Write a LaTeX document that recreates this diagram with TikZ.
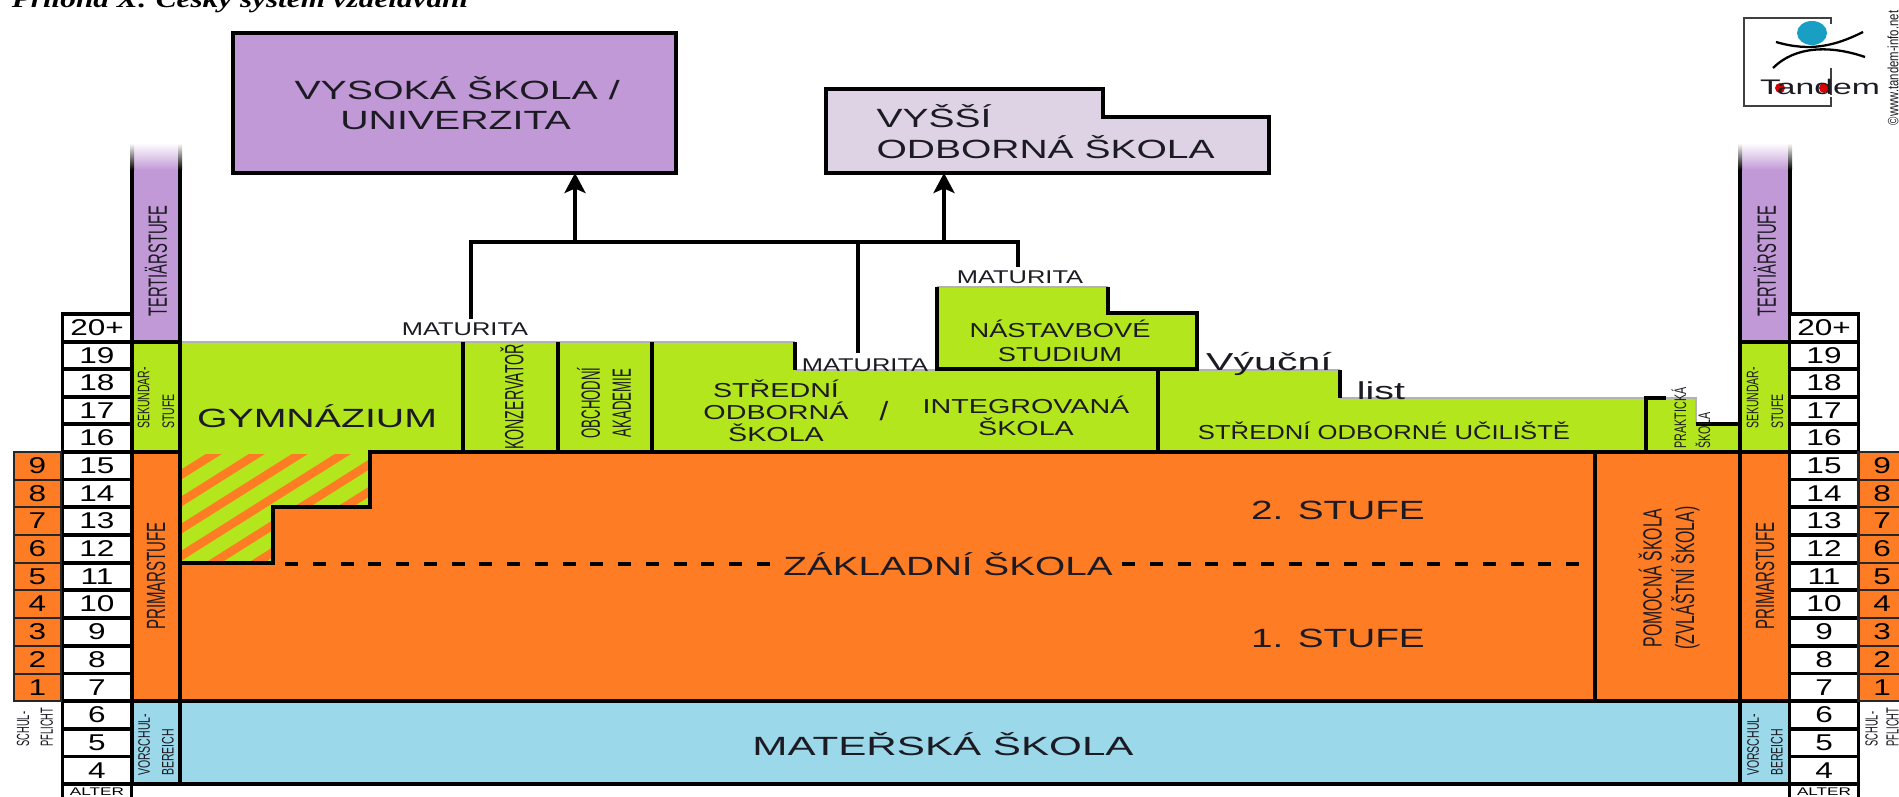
\documentclass[tikz,border=0pt]{standalone}
\usepackage{graphicx}
\usepackage{fontspec}
\setmainfont{Liberation Sans}
\newfontfamily\titlefont{Liberation Serif}
\usetikzlibrary{arrows.meta}

\definecolor{skOrange}{HTML}{FE7C23}
\definecolor{skGreen}{HTML}{B4E61D}
\definecolor{skPurple}{HTML}{C199D6}
\definecolor{skLavender}{HTML}{DDD3E5}
\definecolor{skBlue}{HTML}{9AD8EA}
\definecolor{skInk}{HTML}{1C1A22}
\definecolor{skDot}{HTML}{1A9FC4}

\newcommand{\wdnum}[1]{\scalebox{1.38}[1]{#1}}

\tikzset{
    box/.style 2 args={minimum width=#1*0.02cm,minimum height=#2*0.02cm,inner sep=0pt,outer sep=0pt},
    framed/.style={draw=black,line width=2pt},
    agecell/.style={box={69}{27.7},framed,fill=white,font=\fontsize{13pt}{14pt}\selectfont},
    classcell/.style={box={47}{27.7},draw=black!85,line width=1.2pt,fill=skOrange,font=\fontsize{13pt}{14pt}\selectfont},
    lab/.style n args={3}{font=\fontsize{#1}{#2}\selectfont,xscale=#3,transform shape,inner sep=0pt,text=skInk},
    vlab/.style n args={3}{rotate=90,lab={#1}{#2}{#3}},
    conn/.style={line width=2pt,black},
    tip/.style={-{Stealth[length=0.4cm,width=0.42cm,inset=0.09cm]}},
    topedge/.style={line width=1.2pt,gray!60},
    edge/.style={line width=2pt,black}
}

\begin{document}
\begin{tikzpicture}[line cap=butt,line join=miter,x=0.02cm,y=-0.02cm]

    \useasboundingbox (0,0) rectangle (1899,797);
    \clip (0,0) rectangle (1899,797);

    % heading, cut by the page edge
    \draw (240,-1) node[font=\titlefont\bfseries\itshape\fontsize{14pt}{16pt}\selectfont,xscale=1.27,transform shape,inner sep=0pt] (heading) {Příloha X: Český systém vzdělávání};

    % logo
    \draw[black!75,line width=1pt] (1831,24) -- (1831,18) -- (1744,18) -- (1744,106) -- (1831,106) -- (1831,97);
    \draw[black!75,line width=1pt] (1831,68) -- (1831,95);
    \fill[skDot] (1812,33) ellipse (15 and 12);
    \draw[black,line width=1.3pt] (1776,42) .. controls (1810,52) and (1835,46) .. (1863,32);
    \draw[black,line width=1.3pt] (1773,68) .. controls (1795,46) and (1830,45) .. (1865,57);
    \fill[red!85!black] (1780,88) circle (5);
    \fill[red!85!black] (1824,88) circle (5);
    \draw (1820,87) node[lab={12pt}{14pt}{1.6}] (tandem) {Tandem};
    \draw (1893,68) node[vlab={8.5pt}{10pt}{0.76}] (webref) {©www.tandem-info.net};

    % top boxes
    \draw (454.5,103) node[box={443}{140},framed,fill=skPurple] (vs) {};
    \draw[edge,fill=skLavender] (826,89) -- (1103,89) -- (1103,117) -- (1269,117) -- (1269,173) -- (826,173) -- cycle;
    \coordinate (vos) at (944,173);
    \draw (294,103) node[anchor=west,align=left,lab={15pt}{17pt}{1.49}] (vsText) {VYSOKÁ ŠKOLA /\\\hspace*{17.5pt}UNIVERZITA};
    \draw (876,132) node[anchor=west,align=left,lab={15pt}{17.6pt}{1.48}] (vosText) {VYŠŠÍ\\ODBORNÁ ŠKOLA};

    % secondary schools
    \fill[skGreen] (180,342) -- (795,342) -- (795,370) -- (937,370) -- (937,287) -- (1108,287) -- (1108,313) -- (1197,313) -- (1197,370) -- (1340,370) -- (1340,398) -- (1696,398) -- (1696,424) -- (1740,424) -- (1740,452) -- (180,452) -- cycle;
    \draw[topedge] (180,342) -- (795,342);
    \draw[topedge] (795,370) -- (937,370);
    \draw[topedge] (937,287) -- (1108,287);
    \draw[topedge] (1197,370) -- (1340,370);
    \draw[topedge] (1340,398) -- (1646,398);
    \draw[topedge] (1666,398) -- (1696,398) -- (1696,424);
    \draw[edge] (463,342) -- (463,452);
    \draw[edge] (558,342) -- (558,452);
    \draw[edge] (652,342) -- (652,452);
    \draw[edge] (795,342) -- (795,370);
    \draw[edge] (937,287) -- (937,369) -- (1197,369) -- (1197,313) -- (1108,313) -- (1108,287);
    \draw[edge] (1158,369) -- (1158,452);
    \draw[edge] (1340,370) -- (1340,398);
    \draw[edge] (1666,398) -- (1646,398) -- (1646,452);
    \draw[edge] (1696,424) -- (1740,424);

    % basic school and nursery
    \draw (960,576.5) node[box={1560}{249},fill=skOrange] (zs) {};
    \draw (960,742.5) node[box={1560}{83},framed,fill=skBlue] (ms) {};

    % gymnazium years inside the basic school
    \fill[skGreen] (180,452) -- (370,452) -- (370,507) -- (273,507) -- (273,563) -- (180,563) -- cycle;
    \begin{scope}
        \clip (180,454) -- (370,454) -- (370,507) -- (273,507) -- (273,563) -- (180,563) -- cycle;
        \foreach \k in {-1,...,6} {
            \draw[skOrange,line width=0.17cm] ({217+43*\k+100},{452-63}) -- ({217+43*\k-300},{452+189});
        }
    \end{scope}
    \draw[edge] (1740,452) -- (370,452) -- (370,507) -- (273,507) -- (273,563) -- (180,563);
    \draw[edge] (1595,452) -- (1595,701);
    \draw[line width=2.6pt,dash pattern=on 7.4pt off 8.4pt] (285,564) -- (775,564);
    \draw[line width=2.6pt,dash pattern=on 7.4pt off 8.4pt] (1122,564) -- (1592,564);

    % side columns, left
    \shade[top color=white,bottom color=skPurple] (132,143) rectangle (180,170);
    \shade[top color=white,bottom color=black] (130,143) rectangle (134,170);
    \shade[top color=white,bottom color=black] (178,143) rectangle (182,170);
    \draw (156,256) node[box={48}{172},fill=skPurple] (tertL) {};
    \draw[edge] (132,170) -- (132,342);
    \draw[edge] (180,170) -- (180,342);
    \draw (156,397) node[box={48}{110},framed,fill=skGreen] (sekL) {};
    \draw (156,576.5) node[box={48}{249},framed,fill=skOrange] (primL) {};
    \draw (156,742.5) node[box={48}{83},framed,fill=skBlue] (vorL) {};

    % side columns, right
    \shade[top color=white,bottom color=skPurple] (1740,143) rectangle (1790,170);
    \shade[top color=white,bottom color=black] (1738,143) rectangle (1742,170);
    \shade[top color=white,bottom color=black] (1788,143) rectangle (1792,170);
    \draw (1765,256) node[box={50}{172},fill=skPurple] (tertR) {};
    \draw[edge] (1740,170) -- (1740,342);
    \draw[edge] (1790,170) -- (1790,342);
    \draw (1765,397) node[box={50}{110},framed,fill=skGreen] (sekR) {};
    \draw (1765,576.5) node[box={50}{249},framed,fill=skOrange] (primR) {};
    \draw (1765,742.5) node[box={50}{83},framed,fill=skBlue] (vorR) {};

    % ages, left
    \draw (97,328) node[agecell] (ageL20) {\wdnum{20+}};
    \draw (97,356) node[agecell] (ageL19) {\wdnum{19}};
    \draw (97,383) node[agecell] (ageL18) {\wdnum{18}};
    \draw (97,411) node[agecell] (ageL17) {\wdnum{17}};
    \draw (97,438) node[agecell] (ageL16) {\wdnum{16}};
    \draw (97,466) node[agecell] (ageL15) {\wdnum{15}};
    \draw (97,493.5) node[agecell] (ageL14) {\wdnum{14}};
    \draw (97,521) node[agecell] (ageL13) {\wdnum{13}};
    \draw (97,549) node[agecell] (ageL12) {\wdnum{12}};
    \draw (97,577) node[agecell] (ageL11) {\wdnum{11}};
    \draw (97,604) node[agecell] (ageL10) {\wdnum{10}};
    \draw (97,632) node[agecell] (ageL9) {\wdnum{9}};
    \draw (97,660) node[agecell] (ageL8) {\wdnum{8}};
    \draw (97,687.5) node[agecell] (ageL7) {\wdnum{7}};
    \draw (97,715) node[agecell] (ageL6) {\wdnum{6}};
    \draw (97,743) node[agecell] (ageL5) {\wdnum{5}};
    \draw (97,770.5) node[agecell] (ageL4) {\wdnum{4}};
    \draw (97,792) node[box={69}{16},framed,fill=white,font=\fontsize{6.3pt}{7pt}\selectfont] (alterL) {\scalebox{1.55}[1]{ALTER}};

    % ages, right
    \draw (1824,328) node[agecell] (ageR20) {\wdnum{20+}};
    \draw (1824,356) node[agecell] (ageR19) {\wdnum{19}};
    \draw (1824,383) node[agecell] (ageR18) {\wdnum{18}};
    \draw (1824,411) node[agecell] (ageR17) {\wdnum{17}};
    \draw (1824,438) node[agecell] (ageR16) {\wdnum{16}};
    \draw (1824,466) node[agecell] (ageR15) {\wdnum{15}};
    \draw (1824,493.5) node[agecell] (ageR14) {\wdnum{14}};
    \draw (1824,521) node[agecell] (ageR13) {\wdnum{13}};
    \draw (1824,549) node[agecell] (ageR12) {\wdnum{12}};
    \draw (1824,577) node[agecell] (ageR11) {\wdnum{11}};
    \draw (1824,604) node[agecell] (ageR10) {\wdnum{10}};
    \draw (1824,632) node[agecell] (ageR9) {\wdnum{9}};
    \draw (1824,660) node[agecell] (ageR8) {\wdnum{8}};
    \draw (1824,687.5) node[agecell] (ageR7) {\wdnum{7}};
    \draw (1824,715) node[agecell] (ageR6) {\wdnum{6}};
    \draw (1824,743) node[agecell] (ageR5) {\wdnum{5}};
    \draw (1824,770.5) node[agecell] (ageR4) {\wdnum{4}};
    \draw (1824,792) node[box={69}{16},framed,fill=white,font=\fontsize{6.3pt}{7pt}\selectfont] (alterR) {\scalebox{1.55}[1]{ALTER}};

    % school years, left
    \draw (37.5,466) node[classcell] (yearL9) {\wdnum{9}};
    \draw (37.5,493.5) node[classcell] (yearL8) {\wdnum{8}};
    \draw (37.5,521) node[classcell] (yearL7) {\wdnum{7}};
    \draw (37.5,549) node[classcell] (yearL6) {\wdnum{6}};
    \draw (37.5,577) node[classcell] (yearL5) {\wdnum{5}};
    \draw (37.5,604) node[classcell] (yearL4) {\wdnum{4}};
    \draw (37.5,632) node[classcell] (yearL3) {\wdnum{3}};
    \draw (37.5,660) node[classcell] (yearL2) {\wdnum{2}};
    \draw (37.5,687.5) node[classcell] (yearL1) {\wdnum{1}};

    % school years, right
    \draw (1882,466) node[classcell] (yearR9) {\wdnum{9}};
    \draw (1882,493.5) node[classcell] (yearR8) {\wdnum{8}};
    \draw (1882,521) node[classcell] (yearR7) {\wdnum{7}};
    \draw (1882,549) node[classcell] (yearR6) {\wdnum{6}};
    \draw (1882,577) node[classcell] (yearR5) {\wdnum{5}};
    \draw (1882,604) node[classcell] (yearR4) {\wdnum{4}};
    \draw (1882,632) node[classcell] (yearR3) {\wdnum{3}};
    \draw (1882,660) node[classcell] (yearR2) {\wdnum{2}};
    \draw (1882,687.5) node[classcell] (yearR1) {\wdnum{1}};

    % stage names in the side columns
    \draw (156,261) node[vlab={15pt}{18pt}{0.56}] (tertTextL) {TERTIÄRSTUFE};
    \draw (1765,261) node[vlab={15pt}{18pt}{0.56}] (tertTextR) {TERTIÄRSTUFE};
    \draw (156,398) node[anchor=center,align=left,vlab={9.5pt}{14pt}{0.63}] (sekTextL) {SEKUNDAR-\\STUFE};
    \draw (1765,398) node[anchor=center,align=left,vlab={9.5pt}{14pt}{0.63}] (sekTextR) {SEKUNDAR-\\STUFE};
    \draw (156,576) node[vlab={15pt}{18pt}{0.57}] (primTextL) {PRIMARSTUFE};
    \draw (1765,576) node[vlab={15pt}{18pt}{0.57}] (primTextR) {PRIMARSTUFE};
    \draw (156,745) node[align=left,vlab={9.5pt}{13.5pt}{0.63}] (vorTextL) {VORSCHUL-\\BEREICH};
    \draw (1765,745) node[align=left,vlab={9.5pt}{13.5pt}{0.63}] (vorTextR) {VORSCHUL-\\BEREICH};
    \draw (35,727) node[align=left,vlab={10pt}{13.5pt}{0.53}] (pflichtL) {SCHUL-\\PFLICHT};
    \draw (1882,727) node[align=left,vlab={10pt}{12pt}{0.53}] (pflichtR) {SCHUL-\\PFLICHT};

    % school names
    \draw (317,416) node[lab={15pt}{17pt}{1.49}] (gym) {GYMNÁZIUM};
    \draw (512,397) node[vlab={15pt}{18pt}{0.54}] (konz) {KONZERVATOŘ};
    \draw (604,403) node[align=center,vlab={15pt}{17.6pt}{0.5}] (oa) {OBCHODNÍ\\AKADEMIE};
    \draw (776,411) node[align=center,lab={11.5pt}{12.6pt}{1.42}] (sos) {STŘEDNÍ\\ODBORNÁ\\ŠKOLA};
    \draw (884,411) node[lab={15pt}{17pt}{1.2}] (slash) {/};
    \draw (1026,416) node[align=center,lab={11.5pt}{12.6pt}{1.42}] (integ) {INTEGROVANÁ\\ŠKOLA};
    \draw (1060,341) node[align=center,lab={11.5pt}{13.6pt}{1.35}] (nast) {NÁSTAVBOVÉ\\STUDIUM};
    \draw (1384,431) node[lab={11.5pt}{13pt}{1.27}] (sou) {STŘEDNÍ ODBORNÉ UČILIŠTĚ};
    \draw (1691,418) node[align=left,vlab={9.5pt}{13.6pt}{0.64}] (prakt) {PRAKTICKÁ\\ŠKOLA};
    \draw (1669,578) node[align=center,vlab={15pt}{18.5pt}{0.6}] (pomoc) {POMOCNÁ ŠKOLA\\(ZVLÁŠTNÍ ŠKOLA)};
    \draw (1338,510) node[lab={15pt}{17pt}{1.47}] (stufe2) {2. STUFE};
    \draw (1338,638) node[lab={15pt}{17pt}{1.47}] (stufe1) {1. STUFE};
    \draw (948,564) node[lab={15pt}{17pt}{1.47}] (zsText) {ZÁKLADNÍ ŠKOLA};
    \draw (943,744) node[lab={15pt}{17pt}{1.6}] (msText) {MATEŘSKÁ ŠKOLA};

    % leaving certificates
    \draw (465,329) node[lab={10.5pt}{12pt}{1.38}] (matA) {MATURITA};
    \draw (865,365) node[lab={10.5pt}{12pt}{1.38}] (matB) {MATURITA};
    \draw (1020,277) node[lab={10.5pt}{12pt}{1.38}] (matC) {MATURITA};
    \draw (1269,364) node[lab={14pt}{17pt}{1.67}] (vyucni) {Výuční};
    \draw (1381,391) node[lab={14pt}{17pt}{1.6}] (list) {list};

    % paths to the upper schools
    \coordinate (dropA) at (471,319);
    \coordinate (dropB) at (858,353);
    \coordinate (dropC) at (1018,267);
    \coordinate (jointA) at (575,242);
    \coordinate (jointB) at (944,242);
    \coordinate (jointC) at (1018,242);
    \draw[conn] (dropA) |- (jointC) -- (dropC);
    \draw[conn] (dropB) -- (dropB |- jointC);
    \draw[conn,tip] (jointA) -- (jointA |- vs.south);
    \draw[conn,tip] (jointB) -- (vos);

\end{tikzpicture}
\end{document}
